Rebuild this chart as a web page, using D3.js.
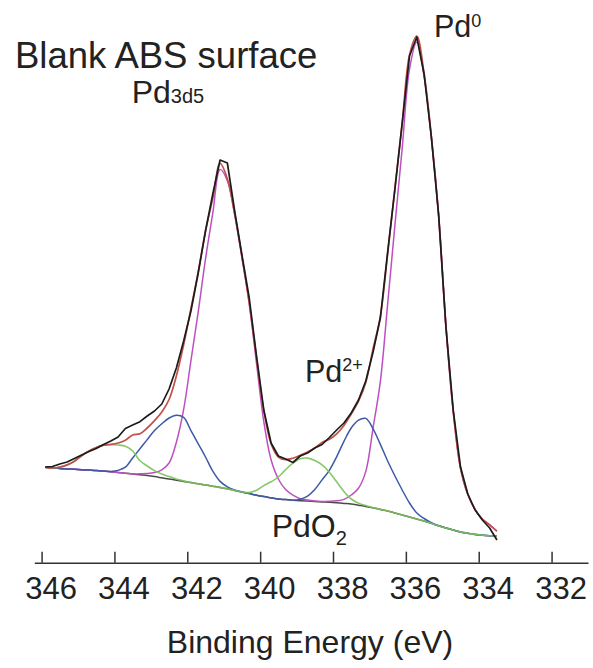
<!DOCTYPE html>
<html>
<head>
<meta charset="utf-8">
<script src="https://cdn.jsdelivr.net/npm/d3@7/dist/d3.min.js"></script>
<style>
  html, body { margin: 0; padding: 0; background: #fff; }
  svg { display: block; }
  text { font-family: "Liberation Sans", Arial, Helvetica, sans-serif; fill: #222; }
</style>
</head>
<body>
<svg id="chart" width="593" height="668"></svg>
<script>
// Binding energy grid (eV), high to low
const energy = [345.9, 345.7, 345.5, 345.3, 345.1, 344.9, 344.7, 344.5, 344.3, 344.1,
  343.9, 343.7, 343.5, 343.3, 343.1, 342.9, 342.7, 342.5, 342.3, 342.1,
  341.9, 341.7, 341.5, 341.3, 341.1, 340.9, 340.7, 340.5, 340.3, 340.1,
  339.9, 339.7, 339.5, 339.3, 339.1, 338.9, 338.7, 338.5, 338.3, 338.1,
  337.9, 337.7, 337.5, 337.3, 337.1, 336.9, 336.7, 336.5, 336.3, 336.1,
  335.9, 335.7, 335.5, 335.3, 335.1, 334.9, 334.7, 334.5, 334.3, 334.1,
  333.9, 333.7, 333.5];

// Measured spectrum (arb. units)
const rawCounts = [103, 103.5, 106, 108, 111.5, 115, 118.5, 121.5, 125.5, 129,
  133, 141.5, 145, 148.3, 154, 159, 166, 181, 202, 229,
  259, 297, 339, 376, 410, 407, 359, 315, 272, 214,
  160, 127, 114, 111, 107.5, 114, 117, 122, 125.5, 132.5,
  140, 147, 157, 170, 189, 218, 252, 318, 381, 447,
  514, 533, 496, 433, 355, 243, 160, 103, 76, 60,
  50, 42, 30];

// Fitted envelope
const envelope = [102.7, 102.1, 103.0, 105.1, 108.7, 114.3, 118.9, 122.5, 124.9, 125.6,
  127.0, 129.8, 135.0, 136.2, 142.0, 149.4, 158.0, 170.5, 194.0, 225.1,
  261.4, 298.2, 339.0, 371.8, 406.6, 391.2, 356.1, 313.0, 267.4, 211.8,
  159.4, 126.2, 113.0, 110.4, 111.8, 114.8, 117.9, 122.0, 127.6, 130.7,
  136.2, 144.6, 156.0, 168.8, 187.6, 221.2, 253.6, 316.0, 382.0, 447.0,
  515.0, 534.0, 496.5, 433.4, 354.2, 244.0, 159.0, 102.0, 75.8, 60.6,
  50.8, 45.2, 38.8];

// Shirley background
const background = [102.7, 102.1, 101.5, 101.1, 100.7, 100.3, 99.9, 99.5, 98.9, 98.3,
  97.6, 96.8, 96.0, 95.2, 94.4, 93.4, 92.2, 91.0, 89.8, 88.6,
  87.4, 86.2, 85.0, 83.8, 82.6, 81.2, 79.6, 78.0, 76.4, 74.8,
  73.4, 72.2, 71.0, 70.4, 69.8, 69.3, 68.9, 68.5, 68.1, 67.7,
  67.2, 66.6, 66.0, 64.8, 63.6, 62.2, 60.6, 59.0, 57.0, 55.0,
  53.0, 51.0, 49.0, 46.6, 44.2, 42.0, 40.0, 38.0, 36.8, 35.6,
  34.8, 34.2, 33.8];

// Pd0 doublet component (on background)
const pd0Fit = [102.7, 102.1, 101.5, 101.1, 100.7, 100.3, 99.9, 99.5, 98.9, 98.3,
  97.6, 96.8, 96.0, 96.2, 96.4, 97.4, 100.2, 107.0, 127.8, 160.6,
  209.4, 258.2, 311.0, 356.8, 400.6, 389.2, 355.6, 313.0, 266.4, 206.8,
  148.4, 110.2, 91.0, 80.4, 74.8, 71.3, 69.9, 69.0, 68.6, 68.7,
  69.2, 70.6, 75.0, 81.8, 98.6, 142.2, 188.6, 266.0, 345.0, 422.0,
  501.0, 528.0, 494.0, 432.6, 354.2, 244.0, 159.0, 102.0, 75.8, 60.6,
  50.8, 45.2, 38.8];

// Pd2+ doublet component (on background)
const pd2Fit = [102.7, 102.1, 101.5, 101.1, 100.7, 100.3, 99.9, 99.5, 98.9, 98.6,
  99.6, 102.8, 112.0, 121.2, 130.4, 139.4, 146.2, 152.0, 154.8, 152.6,
  139.4, 126.2, 113.0, 98.8, 88.6, 83.2, 80.1, 78.0, 76.4, 74.8,
  73.4, 72.2, 71.0, 70.4, 69.8, 70.8, 73.9, 80.5, 90.1, 99.7,
  113.2, 128.6, 142.0, 149.8, 151.6, 141.2, 125.6, 109.0, 94.0, 80.0,
  67.0, 57.0, 51.5, 47.4, 44.2, 42.0, 40.0, 38.0, 36.8, 35.6,
  34.8, 34.2, 33.8];

// PdO2 doublet component (on background)
const pdO2Fit = [102.7, 102.1, 103.0, 105.1, 108.7, 114.3, 118.9, 122.5, 124.9, 125.3,
  125.0, 123.8, 119.0, 109.2, 104.0, 99.4, 96.0, 93.5, 91.0, 89.1,
  87.4, 86.2, 85.0, 83.8, 82.6, 81.2, 79.6, 78.0, 77.4, 79.8,
  84.4, 88.2, 93.0, 100.4, 106.8, 111.3, 111.9, 109.5, 105.1, 97.7,
  88.2, 78.6, 71.0, 66.8, 64.6, 62.2, 60.6, 59.0, 57.0, 55.0,
  53.0, 51.0, 49.0, 46.6, 44.2, 42.0, 40.0, 38.0, 36.8, 35.6,
  34.8, 34.2, 33.8];

const tickValues = [346, 344, 342, 340, 338, 336, 334, 332];

const svg = d3.select("#chart");

const x = d3.scaleLinear().domain([346.2, 331.0]).range([34.3, 588]);
const y = d3.scaleLinear().domain([0, 540]).range([570, 30]);
const axisY = 562.7;

const seriesLine = (values, curve) => d3.line()
  .x((d, i) => x(energy[i]))
  .y(d => y(d))
  .curve(curve)(values);

const layers = [
  { values: background, color: "#4a4a4a", width: 1.5, curve: d3.curveMonotoneX, opacity: 1 },
  { values: pd0Fit,     color: "#bd50c0", width: 1.5, curve: d3.curveCatmullRom, opacity: 1 },
  { values: pd2Fit,     color: "#3d5aa6", width: 1.5, curve: d3.curveCatmullRom, opacity: 1 },
  { values: pdO2Fit,    color: "#79c25a", width: 1.6, curve: d3.curveCatmullRom, opacity: 0.9 },
  { values: envelope,   color: "#c4504a", width: 1.7, curve: d3.curveCatmullRom, opacity: 1 },
  { values: rawCounts,  color: "#1c1c1c", width: 1.7, curve: d3.curveLinear, opacity: 1 }
];

svg.append("g").selectAll("path")
  .data(layers)
  .join("path")
  .attr("d", d => seriesLine(d.values, d.curve))
  .attr("fill", "none")
  .attr("stroke", d => d.color)
  .attr("stroke-width", d => d.width)
  .attr("stroke-opacity", d => d.opacity)
  .attr("stroke-linejoin", "round");

// Energy axis with upward ticks
const axis = d3.axisBottom(x)
  .tickValues(tickValues)
  .tickFormat(d3.format("d"))
  .tickSize(-11)
  .tickSizeOuter(0);

const gAxis = svg.append("g")
  .attr("transform", `translate(0,${axisY})`)
  .call(axis);

gAxis.select(".domain").attr("stroke", "#333").attr("stroke-width", 1.6);
gAxis.selectAll(".tick line").attr("stroke", "#333").attr("stroke-width", 1.5);
gAxis.selectAll(".tick text")
  .attr("y", 36.3)
  .attr("dy", 0)
  .attr("dx", 9)
  .attr("fill", "#222")
  .style("font-family", '"Liberation Sans", Arial, sans-serif')
  .style("font-size", "31px");

svg.append("text")
  .attr("x", 310).attr("y", 653)
  .attr("text-anchor", "middle")
  .style("font-size", "32px")
  .text("Binding Energy (eV)");

// Panel title
svg.append("text")
  .attr("x", 15).attr("y", 68)
  .style("font-size", "36.5px")
  .text("Blank ABS surface");

const pd3d5 = svg.append("text").attr("x", 131.7).attr("y", 103.3).style("font-size", "32px");
pd3d5.append("tspan").text("Pd");
pd3d5.append("tspan").style("font-size", "20px").text("3d5");

// Peak labels
const pd0 = svg.append("text").attr("x", 434).attr("y", 36.7).style("font-size", "30.5px");
pd0.append("tspan").text("Pd");
pd0.append("tspan").attr("dy", -10).style("font-size", "18px").text("0");

const pd2 = svg.append("text").attr("x", 305).attr("y", 381.7).style("font-size", "30.5px");
pd2.append("tspan").text("Pd");
pd2.append("tspan").attr("dy", -11).style("font-size", "18px").text("2+");

const pdo2 = svg.append("text").attr("x", 271.7).attr("y", 537).style("font-size", "32px");
pdo2.append("tspan").text("PdO");
pdo2.append("tspan").attr("dy", 8).style("font-size", "20px").text("2");
</script>
</body>
</html>
